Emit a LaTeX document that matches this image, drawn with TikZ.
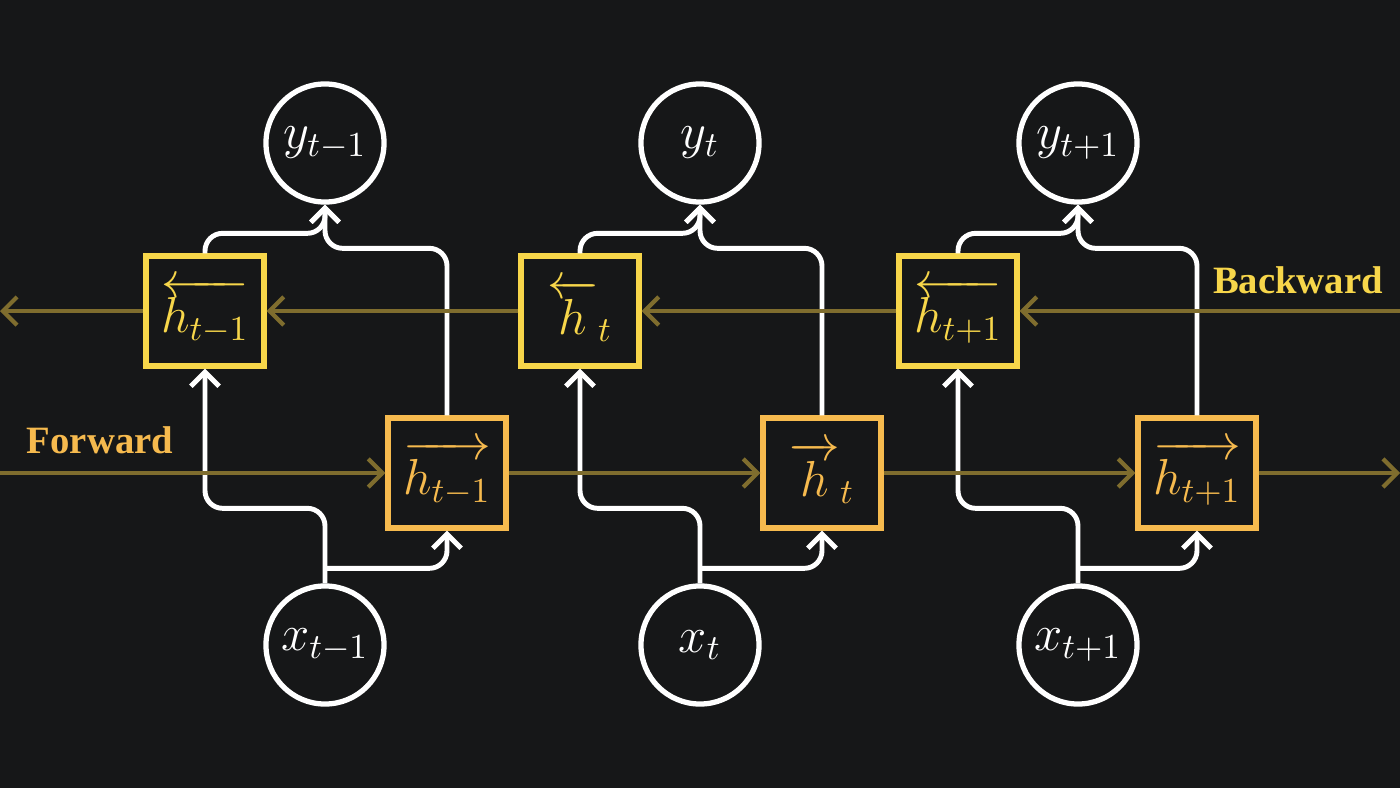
\documentclass[tikz,border=0pt]{standalone}
\usepackage{fontspec}
\setmainfont{Liberation Serif}
\usepackage{amsmath}
\usetikzlibrary{arrows.meta,calc}
\definecolor{bg}{HTML}{161718}
\definecolor{bwd}{HTML}{F7D64A}
\definecolor{fwd}{HTML}{F6BA4E}
\definecolor{flow}{HTML}{7F6D2E}
\tikzset{
    state/.style={circle, draw=white, line width=1.5pt, minimum size=1.18cm, inner sep=0pt, text=white, font=\Large},
    bcell/.style={draw=bwd, line width=1.5pt, minimum width=1.18cm, minimum height=1.1cm, inner sep=0pt, text=bwd, font=\Large},
    fcell/.style={bcell, draw=fwd, text=fwd},
    conn/.style={white, line width=1.4pt, rounded corners=5pt, -{Straight Barb[length=4pt,width=8pt]}},
    time/.style={flow, line width=1.2pt, -{Straight Barb[length=4pt,width=8pt]}}
}
\begin{document}
\begin{tikzpicture}[x=0.01cm, y=-0.01cm]
    \fill[bg] (0,0) rectangle (1400,788);
    \useasboundingbox (0,0) rectangle (1400,788);

    % cells, one column per time step
    \foreach \i/\xc/\xb/\xf/\s/\hb/\hf in {
        1/325/205/447/{t-1}/{\overleftarrow{h_{t-1}}}/{\overrightarrow{h_{t-1}}},
        2/700/580/822/{t}/{{\overleftarrow{h}}_t}/{{\overrightarrow{h}}_t},
        3/1078/958/1197/{t+1}/{\overleftarrow{h_{t+1}}}/{\overrightarrow{h_{t+1}}}} {
        \node[state] (y\i) at (\xc,143) {$y_{\s}$};
        \node[state] (x\i) at (\xc,645) {$x_{\s}$};
        \node[bcell] (b\i) at (\xb,311) {$\hb$};
        \node[fcell] (f\i) at (\xf,473) {$\hf$};

        \draw[conn] (x\i.north) -- ++(0,-75) -| (b\i.south);
        \draw[conn] ($(x\i.north)+(0,-15)$) -| (f\i.south);
        \draw[conn] (b\i.north) -- ++(0,-20) -| (y\i.south);
        \draw[conn] (f\i.north) -- ++(0,-167) -| (y\i.south);
    }

    % backward and forward chains
    \coordinate (bin) at (1400,311);
    \coordinate (bout) at (0,311);
    \coordinate (fin) at (0,473);
    \coordinate (fout) at (1400,473);
    \draw[time] (bin) -- (b3.east);
    \draw[time] (b3.west) -- (b2.east);
    \draw[time] (b2.west) -- (b1.east);
    \draw[time] (b1.west) -- (bout);
    \draw[time] (fin) -- (f1.west);
    \draw[time] (f1.east) -- (f2.west);
    \draw[time] (f2.east) -- (f3.west);
    \draw[time] (f3.east) -- (fout);

    \node[text=fwd, font=\fontsize{11}{13}\selectfont\bfseries] (fwdlabel) at (100,440) {Forward};
    \node[text=bwd, font=\fontsize{11}{13}\selectfont\bfseries] (bwdlabel) at (1298,280) {Backward};
\end{tikzpicture}
\end{document}
